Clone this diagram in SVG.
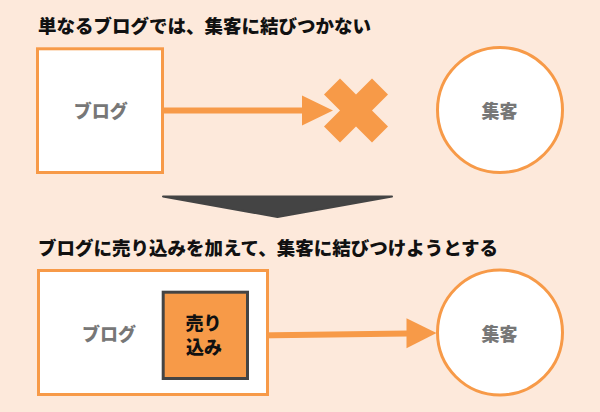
<svg xmlns="http://www.w3.org/2000/svg" width="600" height="412" viewBox="0 0 600 412">
<style>
.title{font-family:"Noto Sans CJK JP","Noto Sans CJK SC",sans-serif;font-weight:900;font-size:18.5px;fill:#111}
.lbl{font-family:"Noto Sans CJK JP","Noto Sans CJK SC",sans-serif;font-weight:900;font-size:18px;fill:#777;text-anchor:middle}
.lbl2{font-family:"Noto Sans CJK JP","Noto Sans CJK SC",sans-serif;font-weight:900;font-size:18px;fill:#111;text-anchor:middle}
.node{fill:#fff;stroke:#f79a48;stroke-width:3}
.orange{fill:#f79a48}
</style>
<rect x="0" y="0" width="600" height="412" fill="#fde9db"/>
<text class="title" x="38" y="32.5">単なるブログでは、集客に結びつかない</text>
<text class="title" x="38" y="254.5">ブログに売り込みを加えて、集客に結びつけようとする</text>

<g id="connectors">
  <rect class="orange" x="164" y="107.5" width="140" height="6"/>
  <polygon class="orange" points="302,95.5 333,110.5 302,125.5"/>
  <polygon class="orange" points="249,332.5 408,330.5 408,336.5 249,338.5"/>
  <polygon class="orange" points="406.5,318.3 436.5,333 406.5,348.3"/>
</g>

<g id="x-mark">
  <polygon class="orange" points="340,78.5 356,94.5 372,78.5 388,94.5 372,110.5 388,126.5 372,142.5 356,126.5 340,142.5 324,126.5 340,110.5 324,94.5"/>
</g>

<g id="down-triangle">
  <polygon points="163,196.5 392,196.5 277.5,217" fill="#444" stroke="#444" stroke-width="2" stroke-linejoin="round"/>
</g>

<g id="blog1">
  <rect class="node" x="37.5" y="48.8" width="125" height="123.7"/>
  <text class="lbl" x="100.8" y="118">ブログ</text>
</g>

<g id="customer1">
  <circle class="node" cx="500" cy="110" r="62.5"/>
  <text class="lbl" x="499.5" y="118">集客</text>
</g>

<g id="blog2">
  <rect class="node" x="38.5" y="270.5" width="229" height="124"/>
  <text class="lbl" x="109" y="340.5">ブログ</text>
</g>

<g id="sales">
  <rect x="163.2" y="292.2" width="84.3" height="86.3" fill="#f79a48" stroke="#444" stroke-width="3"/>
  <text class="lbl2" x="203.5" y="329.5">売り</text>
  <text class="lbl2" x="204" y="353.5">込み</text>
</g>

<g id="customer2">
  <circle class="node" cx="500" cy="332.5" r="62.5"/>
  <text class="lbl" x="499.5" y="340.5">集客</text>
</g>
</svg>
